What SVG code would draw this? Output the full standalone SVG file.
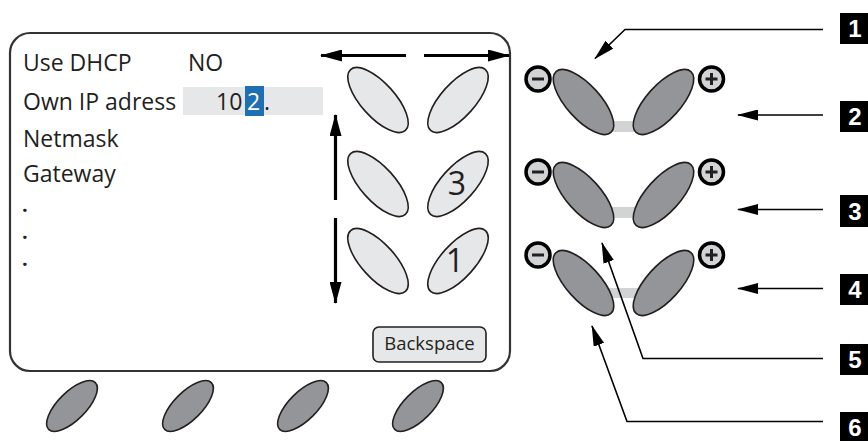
<svg xmlns="http://www.w3.org/2000/svg" width="868" height="441" viewBox="0 0 868 441">
  <style>
    .lbl { font-family: "Open Sans", "Noto Sans", "DejaVu Sans", sans-serif; font-size: 23px; fill: #231f20; }
    .dot { font-family: "Open Sans", "Noto Sans", "DejaVu Sans", sans-serif; font-size: 20px; font-weight: bold; fill: #231f20; }
    .key { fill: #e6e7e8; stroke: #231f20; stroke-width: 1.6; }
    .dark { fill: #939598; stroke: #231f20; stroke-width: 1.6; }
    .bar { fill: #d1d3d4; }
    .ring { fill: #d1d3d4; stroke: #000; stroke-width: 3.5; }
    .sign { fill: #231f20; }
    .nav { stroke: #000; stroke-width: 3.2; fill: none; }
    .call { stroke: #000; stroke-width: 1.6; fill: none; }
    .tag { fill: #000; }
    .tagtxt { font-family: "Liberation Sans", Arial, sans-serif; font-weight: bold; font-size: 24px; fill: #fff; text-anchor: middle; }
  </style>
  <defs>
    <marker id="navHead" viewBox="0 0 22 12" refX="21" refY="6" markerWidth="22" markerHeight="12" markerUnits="userSpaceOnUse" orient="auto">
      <path d="M0,0 L22,6 L0,12 Z" fill="#000"/>
    </marker>
    <marker id="callHead" viewBox="0 0 21 11" refX="20" refY="5.5" markerWidth="21" markerHeight="11" markerUnits="userSpaceOnUse" orient="auto">
      <path d="M0,0 L21,5.5 L0,11 Z" fill="#000"/>
    </marker>
    <ellipse id="keyL" rx="41" ry="17" transform="rotate(48)"/>
    <ellipse id="keyR" rx="41" ry="17" transform="rotate(-48)"/>
    <ellipse id="soft" rx="33" ry="14" transform="rotate(-45)"/>
  </defs>

  <!-- display panel -->
  <g id="display">
    <rect x="10" y="33" width="500" height="338" rx="20" ry="20" fill="#fff" stroke="#333" stroke-width="2.2"/>
    <text class="lbl" x="23" y="71">Use DHCP</text>
    <text class="lbl" x="188" y="71">NO</text>
    <text class="lbl" x="23" y="110">Own IP adress</text>
    <rect x="183" y="87" width="140" height="28" fill="#e6e7e8"/>
    <rect x="245" y="86" width="19" height="30" fill="#1f6fb5"/>
    <text class="lbl" x="216" y="110">10</text>
    <text class="lbl" x="247" y="110" style="fill:#fff">2</text>
    <text class="lbl" x="264" y="110">.</text>
    <text class="lbl" x="23" y="147">Netmask</text>
    <text class="lbl" x="23" y="182">Gateway</text>
    <text class="dot" x="22" y="212">.</text>
    <text class="dot" x="22" y="239">.</text>
    <text class="dot" x="22" y="266">.</text>
  </g>

  <!-- keypad -->
  <g id="keypad">
    <use href="#keyL" class="key" x="378" y="100"/>
    <use href="#keyR" class="key" x="458" y="100"/>
    <use href="#keyL" class="key" x="378" y="184"/>
    <use href="#keyR" class="key" x="458" y="184"/>
    <use href="#keyL" class="key" x="378" y="261"/>
    <use href="#keyR" class="key" x="458" y="261"/>
    <text class="lbl" x="457" y="195" style="font-size:32px" text-anchor="middle">3</text>
    <text class="lbl" x="455" y="272" style="font-size:32px" text-anchor="middle">1</text>
  </g>

  <g id="backspace">
    <rect x="373" y="327" width="113" height="35" rx="6" class="key"/>
    <text class="lbl" x="429.5" y="350" style="font-size:18.5px" text-anchor="middle">Backspace</text>
  </g>

  <!-- soft keys below the display -->
  <g id="softkeys">
    <use href="#soft" class="dark" x="72" y="406"/>
    <use href="#soft" class="dark" x="188" y="406"/>
    <use href="#soft" class="dark" x="303" y="406"/>
    <use href="#soft" class="dark" x="418" y="406"/>
  </g>

  <!-- rocker key pairs -->
  <g id="rocker1">
    <rect class="bar" x="608" y="121" width="30" height="11"/>
    <use href="#keyL" class="dark" x="583.5" y="102"/>
    <use href="#keyR" class="dark" x="663.5" y="102"/>
    <circle class="ring" cx="538" cy="79" r="12"/>
    <rect class="sign" x="532" y="77.5" width="12" height="3"/>
    <circle class="ring" cx="711.5" cy="79" r="12"/>
    <rect class="sign" x="705.5" y="77.5" width="12" height="3"/>
    <rect class="sign" x="710" y="73" width="3" height="12"/>
  </g>
  <g id="rocker2">
    <rect class="bar" x="608" y="207" width="30" height="11"/>
    <use href="#keyL" class="dark" x="583.5" y="195"/>
    <use href="#keyR" class="dark" x="663.5" y="195"/>
    <circle class="ring" cx="538" cy="172" r="12"/>
    <rect class="sign" x="532" y="170.5" width="12" height="3"/>
    <circle class="ring" cx="711.5" cy="172" r="12"/>
    <rect class="sign" x="705.5" y="170.5" width="12" height="3"/>
    <rect class="sign" x="710" y="166" width="3" height="12"/>
  </g>
  <g id="rocker3">
    <rect class="bar" x="608" y="288" width="30" height="10"/>
    <use href="#keyL" class="dark" x="583.5" y="283"/>
    <use href="#keyR" class="dark" x="663.5" y="283"/>
    <circle class="ring" cx="538" cy="255" r="12"/>
    <rect class="sign" x="532" y="253.5" width="12" height="3"/>
    <circle class="ring" cx="711.5" cy="255" r="12"/>
    <rect class="sign" x="705.5" y="253.5" width="12" height="3"/>
    <rect class="sign" x="710" y="249" width="3" height="12"/>
  </g>

  <!-- callout tags -->
  <g id="tag1"><rect class="tag" x="840" y="13" width="28" height="31"/><text class="tagtxt" x="855" y="37">1</text></g>
  <g id="tag2"><rect class="tag" x="840" y="101" width="28" height="31"/><text class="tagtxt" x="855" y="125">2</text></g>
  <g id="tag3"><rect class="tag" x="840" y="195" width="28" height="32"/><text class="tagtxt" x="855" y="220">3</text></g>
  <g id="tag4"><rect class="tag" x="840" y="274" width="28" height="31"/><text class="tagtxt" x="855" y="298">4</text></g>
  <g id="tag5"><rect class="tag" x="840" y="344" width="28" height="31"/><text class="tagtxt" x="855" y="368">5</text></g>
  <g id="tag6"><rect class="tag" x="840" y="412" width="28" height="29"/><text class="tagtxt" x="855" y="436">6</text></g>

  <!-- connectors -->
  <g id="connectors">
    <line class="nav" x1="406" y1="55.5" x2="321" y2="55.5" marker-end="url(#navHead)"/>
    <line class="nav" x1="424" y1="55.5" x2="509" y2="55.5" marker-end="url(#navHead)"/>
    <line class="nav" x1="335.5" y1="200" x2="335.5" y2="115" marker-end="url(#navHead)"/>
    <line class="nav" x1="335.5" y1="218" x2="335.5" y2="303" marker-end="url(#navHead)"/>

    <polyline class="call" points="823,29.5 625,29.5 595,58.5" marker-end="url(#callHead)"/>
    <line class="call" x1="823" y1="115" x2="738" y2="115" marker-end="url(#callHead)"/>
    <line class="call" x1="823" y1="209.5" x2="738" y2="209.5" marker-end="url(#callHead)"/>
    <line class="call" x1="823" y1="288.5" x2="738" y2="288.5" marker-end="url(#callHead)"/>
    <polyline class="call" points="823,358.5 643,358.5 602,243" marker-end="url(#callHead)"/>
    <polyline class="call" points="823,421.5 627,421.5 592,326" marker-end="url(#callHead)"/>
  </g>
</svg>
